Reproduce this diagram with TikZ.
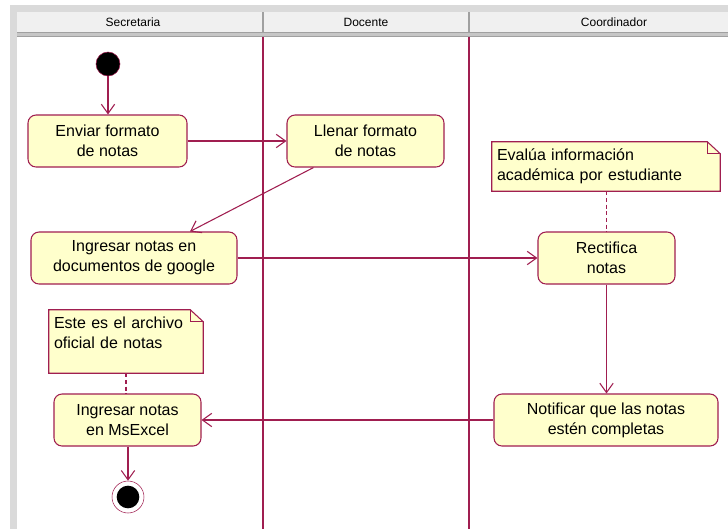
\documentclass[tikz,border=0pt]{standalone}
\usepackage{fontspec}
\setmainfont{Liberation Sans}
\usetikzlibrary{calc,positioning,arrows.meta,backgrounds}
\definecolor{umlline}{RGB}{160,30,80}
\definecolor{umlfill}{RGB}{255,255,204}
\definecolor{headfill}{RGB}{240,240,240}
\definecolor{framegray}{RGB}{218,218,218}
\definecolor{rulegray}{RGB}{160,160,160}

\begin{document}
\begin{tikzpicture}[x=0.75pt,y=-0.75pt,
    activity/.style={draw=umlline, fill=umlfill, rounded corners=6pt, line width=0.8pt,
        font=\fontsize{12}{15}\selectfont, align=center, inner sep=0pt, minimum height=39pt},
    note/.style={font=\fontsize{12}{15}\selectfont, align=left, inner ysep=0pt, inner xsep=3.75pt},
    noteline/.style={draw=umlline, fill=umlfill, line width=0.8pt},
    flow/.style={draw=umlline, line width=0.8pt, -{Straight Barb[length=7pt,width=10pt]}},
    link/.style={draw=umlline, line width=0.8pt, dash pattern=on 3pt off 2pt},
    lane/.style={draw=umlline, line width=0.8pt},
    lanehead/.style={font=\fontsize{9}{11}\selectfont}]
    \useasboundingbox (0,0) rectangle (728,529);
    % frame and swimlanes
    \begin{scope}[on background layer]
        \fill[framegray] (10,5) rectangle (728,529);
        \fill[white] (17,12) rectangle (728,529);
        \fill[headfill] (17,12) rectangle (728,32);
        \fill[rulegray!60] (17,32) rectangle (728,37);
        \draw[rulegray, line width=0.9pt] (17,32.5) -- (728,32.5) (17,36.5) -- (728,36.5);
        \draw[rulegray, line width=1pt] (263,12) -- (263,32) (469,12) -- (469,32);
        \draw[lane] (263,37) -- (263,529);
        \draw[lane] (469,37) -- (469,529);
    \end{scope}
    \node[lanehead] (secretaria) at (133,22) {Secretaria};
    \node[lanehead] (docente) at (366,22) {Docente};
    \node[lanehead] (coordinador) at (614,22) {Coordinador};

    % states
    \node[circle, draw=umlline, fill=black, minimum size=18pt, inner sep=0pt] (inicio) at (108,64) {};
    \node[circle, draw=umlline, fill=white, minimum size=24pt, inner sep=0pt] (fin) at (128,497) {};
    \fill[black] (fin.center) circle (8.5pt);

    % activities
    \node[activity, minimum width=119.25pt] (enviar) at (107.5,141) {Enviar formato\\de notas};
    \node[activity, minimum width=117.75pt] (llenar) at (365.5,141) {Llenar formato\\de notas};
    \node[activity, minimum width=154.5pt] (google) at (134,258) {Ingresar notas en\\documentos de google};
    \node[activity, minimum width=102.75pt] (rectifica) at (606.5,258) {Rectifica\\notas};
    \node[activity, minimum width=110.25pt] (excel) at (127.5,420) {Ingresar notas\\en MsExcel};
    \node[activity, minimum width=168pt] (notificar) at (606,420) {Notificar que las notas\\estén completas};

    % notes
    \node[note, minimum width=171pt, minimum height=36.75pt, text width=163.5pt] (notaevalua) at (606,166.5)
        {Evalúa información\\académica por estudiante};
    \node[note, minimum width=115.5pt, minimum height=47.25pt, text width=108pt, text depth=28pt] (notaarchivo) at (126,341.5)
        {Este es el archivo\\oficial de notas};
    \begin{scope}[on background layer]
        \foreach \n in {notaevalua,notaarchivo}{
            \draw[noteline] (\n.north west) -- ($(\n.north east)+(-13,0)$) -- ($(\n.north east)+(0,12)$)
                -- (\n.south east) -- (\n.south west) -- cycle;
            \draw[draw=umlline, line width=0.8pt] ($(\n.north east)+(-13,0)$) |- ($(\n.north east)+(0,12)$);
        }
    \end{scope}

    % transitions
    \draw[flow] (inicio) -- (inicio |- enviar.north);
    \draw[flow] (enviar) -- (llenar);
    \draw[flow] ($(llenar.south)+(-52,0)$) -- ($(google.north)+(56,0)$);
    \draw[flow] (google) -- (rectifica);
    \draw[flow] (rectifica.south) -- (rectifica.south |- notificar.north);
    \draw[flow] (notificar) -- (excel);
    \draw[flow] (excel.south -| fin) -- (fin);
    \draw[link] (notaevalua.south -| rectifica) -- (rectifica);
    \draw[link] (notaarchivo) -- (notaarchivo |- excel.north);
\end{tikzpicture}
\end{document}
